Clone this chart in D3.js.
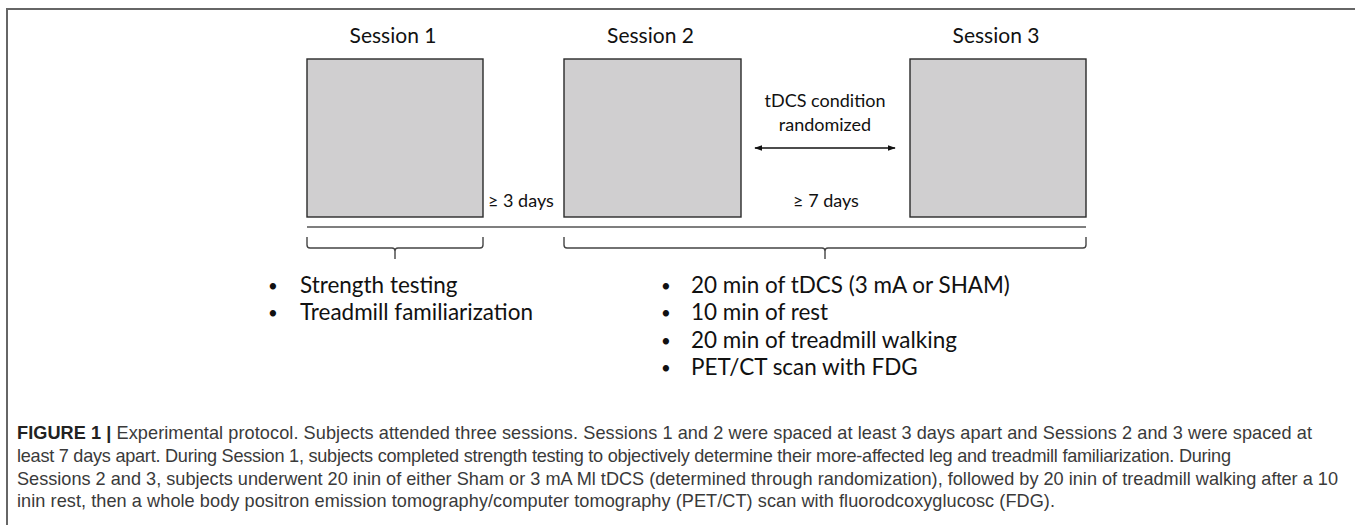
<!DOCTYPE html>
<html>
<head>
<meta charset="utf-8">
<script src="https://cdn.jsdelivr.net/npm/d3@7"></script>
<style>
  html, body { margin: 0; padding: 0; background: #fff; }
  svg { display: block; }
</style>
</head>
<body>
<script>
// ---------------- data ----------------
const sessions = ["Session 1", "Session 2", "Session 3"];
const gapLabels = ["≥ 3 days", "≥ 7 days"];
const randomNote = ["tDCS condition", "randomized"];
const session1Tasks = ["Strength testing", "Treadmill familiarization"];
const session23Tasks = [
  "20 min of tDCS (3 mA or SHAM)",
  "10 min of rest",
  "20 min of treadmill walking",
  "PET/CT scan with FDG"
];
const captionBold = "FIGURE 1 |";
const captionLines = [
  " Experimental protocol. Subjects attended three sessions. Sessions 1 and 2 were spaced at least 3 days apart and Sessions 2 and 3 were spaced at",
  "least 7 days apart. During Session 1, subjects completed strength testing to objectively determine their more-affected leg and treadmill familiarization. During",
  "Sessions 2 and 3, subjects underwent 20 inin of either Sham or 3 mA Ml tDCS (determined through randomization), followed by 20 inin of treadmill walking after a 10",
  "inin rest, then a whole body positron emission tomography/computer tomography (PET/CT) scan with fluorodcoxyglucosc (FDG)."
];

// ---------------- layout ----------------
const W = 1355, H = 525;
const boxX = [[307, 483], [564, 741], [910, 1086]];
const boxTop = 59, boxBottom = 217;
const diagramFont = "Lato, 'Open Sans', sans-serif";
const captionFont = "'Liberation Sans', Arial, sans-serif";
const captionLineEnds = [1312, 1231, 1338, 1055];

const svg = d3.select("body").append("svg")
  .attr("width", W).attr("height", H);

// helper: fit font size so a reference string reaches a target width
function fitSize(family, weight, str, target, base) {
  const t = svg.append("text").attr("font-family", family)
    .attr("font-weight", weight).attr("font-size", base).text(str);
  const w = t.node().getComputedTextLength();
  t.remove();
  return base * target / w;
}

// frame (top and left edges)
svg.append("path")
  .attr("d", `M7,${H} L7,9 L${W},9`)
  .attr("fill", "none").attr("stroke", "#666").attr("stroke-width", 2);

const titleSize = fitSize(diagramFont, 400, "Session 1", 87, 20);
const bulletSize = fitSize(diagramFont, 400, "Treadmill familiarization", 233, 20);
const noteSize = fitSize(diagramFont, 400, "tDCS condition", 121, 18);

// session boxes
const g = svg.append("g");
g.selectAll("rect.box").data(sessions).join("rect")
  .attr("class", "box")
  .attr("x", (d, i) => boxX[i][0])
  .attr("y", boxTop)
  .attr("width", (d, i) => boxX[i][1] - boxX[i][0])
  .attr("height", boxBottom - boxTop)
  .attr("fill", "#d0cfd0")
  .attr("stroke", "#2a2a2a")
  .attr("stroke-width", 1.4);

g.selectAll("text.title").data(sessions).join("text")
  .attr("class", "title")
  .attr("x", (d, i) => (boxX[i][0] + boxX[i][1]) / 2 - 2)
  .attr("y", 43)
  .attr("text-anchor", "middle")
  .attr("font-family", diagramFont)
  .attr("font-size", titleSize)
  .attr("fill", "#111")
  .text(d => d);

// gap labels
g.append("text")
  .attr("x", 488).attr("y", 207)
  .attr("font-family", diagramFont).attr("font-size", noteSize)
  .attr("fill", "#111").text(gapLabels[0]);
g.append("text")
  .attr("x", 826).attr("y", 207).attr("text-anchor", "middle")
  .attr("font-family", diagramFont).attr("font-size", noteSize)
  .attr("fill", "#111").text(gapLabels[1]);

g.selectAll("text.note").data(randomNote).join("text")
  .attr("class", "note")
  .attr("x", 825).attr("y", (d, i) => 107 + i * 24)
  .attr("text-anchor", "middle")
  .attr("font-family", diagramFont).attr("font-size", noteSize)
  .attr("fill", "#111").text(d => d);

// double arrow
const defs = svg.append("defs");
defs.append("marker").attr("id", "ah")
  .attr("viewBox", "0 0 10 10").attr("refX", 9).attr("refY", 5)
  .attr("markerWidth", 8).attr("markerHeight", 8)
  .attr("markerUnits", "userSpaceOnUse")
  .attr("orient", "auto-start-reverse")
  .append("path").attr("d", "M0,1.5 L10,5 L0,8.5 Z").attr("fill", "#111");
g.append("line")
  .attr("x1", 755).attr("x2", 895).attr("y1", 148).attr("y2", 148)
  .attr("stroke", "#111").attr("stroke-width", 1.3)
  .attr("marker-start", "url(#ah)").attr("marker-end", "url(#ah)");

// separator line
g.append("line")
  .attr("x1", boxX[0][0]).attr("x2", boxX[2][1])
  .attr("y1", 227).attr("y2", 227)
  .attr("stroke", "#555").attr("stroke-width", 1.5);

// braces
function brace(x0, x1) {
  const p = d3.path();
  const yt = 237, yb = 248, r = 3, xc = (x0 + x1) / 2;
  p.moveTo(x0, yt);
  p.lineTo(x0, yb - r);
  p.quadraticCurveTo(x0, yb, x0 + r, yb);
  p.lineTo(xc - r, yb);
  p.quadraticCurveTo(xc, yb, xc, yb + r);
  p.lineTo(xc, 259);
  p.moveTo(xc, yb + r);
  p.quadraticCurveTo(xc, yb, xc + r, yb);
  p.lineTo(x1 - r, yb);
  p.quadraticCurveTo(x1, yb, x1, yb - r);
  p.lineTo(x1, yt);
  return p.toString();
}
const braces = [[boxX[0][0], boxX[0][1]], [boxX[1][0], boxX[2][1]]];
g.selectAll("path.brace").data(braces).join("path")
  .attr("class", "brace")
  .attr("d", d => brace(d[0], d[1]))
  .attr("fill", "none").attr("stroke", "#444").attr("stroke-width", 1.4);

// bullet lists
function bullets(list, bx, tx) {
  const sel = g.append("g");
  list.forEach((s, i) => {
    const y = 293 + i * 27.4;
    sel.append("text").attr("x", bx).attr("y", y - 1).attr("text-anchor", "middle")
      .attr("font-family", diagramFont).attr("font-size", bulletSize * 0.75)
      .attr("fill", "#111").text("•");
    sel.append("text").attr("x", tx).attr("y", y)
      .attr("font-family", diagramFont).attr("font-size", bulletSize)
      .attr("fill", "#111").text(s);
  });
}
bullets(session1Tasks, 273, 300);
bullets(session23Tasks, 666, 691);

// caption
const capX = 17;
const capSize = fitSize(captionFont, 400, captionLines[2], captionLineEnds[2] - capX, 16);
const cap = svg.append("g");
captionLines.forEach((s, i) => {
  const t = cap.append("text")
    .attr("x", capX).attr("y", 439 + i * 22.8)
    .attr("font-family", captionFont).attr("font-size", capSize)
    .attr("fill", "#3a3a3a")
    .attr("textLength", captionLineEnds[i] - capX)
    .attr("lengthAdjust", "spacing");
  if (i === 0) {
    t.append("tspan").attr("font-weight", 700).attr("fill", "#222").text(captionBold);
  }
  t.append("tspan").text(s);
});
</script>
</body>
</html>
